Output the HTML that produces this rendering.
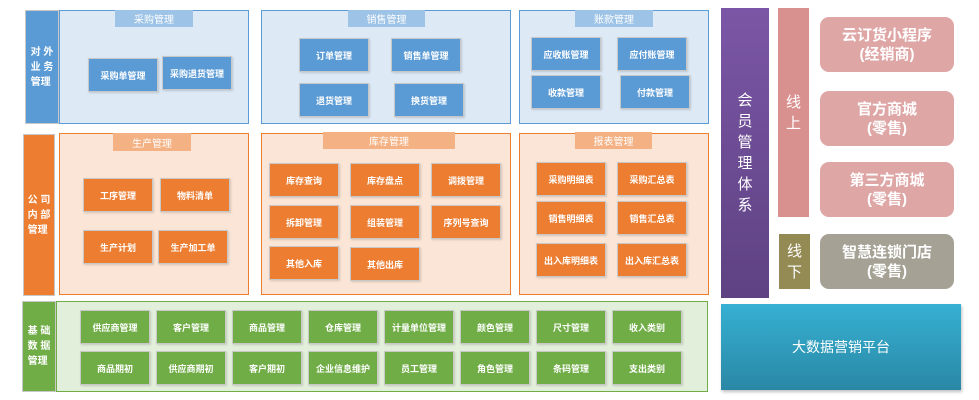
<!DOCTYPE html>
<html><head><meta charset="utf-8">
<style>
body{margin:0;width:979px;height:400px;background:#fff;position:relative;overflow:hidden;font-family:"Liberation Sans","Noto Sans CJK SC",sans-serif;}
.a{position:absolute;box-sizing:border-box;}
.box{display:flex;align-items:center;justify-content:center;color:#fff;font-size:9px;font-weight:bold;border:1px solid #c8c8c8;box-shadow:1px 1px 2px rgba(0,0,0,0.15);white-space:nowrap;}
.tab{display:flex;align-items:center;justify-content:center;color:#fff;font-size:10px;}
.side{display:flex;align-items:center;justify-content:center;color:#fff;font-size:10px;font-weight:bold;line-height:15px;text-align:left;border:1px solid #c8c8c8;}
.big{display:flex;align-items:center;justify-content:center;color:#fff;text-align:center;border-radius:9px;font-size:15px;font-weight:bold;line-height:19px;}
.vert{display:flex;align-items:center;justify-content:center;color:#fff;font-size:15px;line-height:21px;text-align:center;}
</style></head><body>
<div class="a side" style="left:25px;top:10px;width:34px;height:114px;background:#5b9bd5">对&nbsp;外<br>业&nbsp;务<br>管理</div>
<div class="a side" style="left:23px;top:134px;width:32px;height:162px;background:#ed7d31">公&nbsp;司<br>内&nbsp;部<br>管理</div>
<div class="a side" style="left:22px;top:301px;width:34px;height:91px;background:#70ad47">基&nbsp;础<br>数&nbsp;据<br>管理</div>
<div id="root"></div>
<div class="a vert" style="left:721px;top:8px;width:48px;height:290px;background:linear-gradient(#7b56a6,#5e4282);font-size:15px">会<br>员<br>管<br>理<br>体<br>系</div>
<div class="a vert" style="left:778px;top:8px;width:31px;height:209px;background:#d99190">线<br>上</div>
<div class="a vert" style="left:779px;top:234px;width:31px;height:55px;background:#948a54">线<br>下</div>
<div class="a big" style="left:820px;top:17px;width:134px;height:55px;background:#dfa6a6">云订货小程序<br>(经销商)</div>
<div class="a big" style="left:820px;top:91px;width:134px;height:55px;background:#dfa6a6">官方商城<br>(零售)</div>
<div class="a big" style="left:820px;top:162px;width:134px;height:55px;background:#dfa6a6">第三方商城<br>(零售)</div>
<div class="a big" style="left:820px;top:234px;width:134px;height:55px;background:#a5a295">智慧连锁门店<br>(零售)</div>
<div class="a vert" style="left:721px;top:304px;width:240px;height:86px;background:linear-gradient(#36b0d3,#2a88a5);font-size:14px;box-shadow:1px 2px 3px rgba(0,0,0,0.25)">大数据营销平台</div>
<script>
const panels=[
 {n:'purchase',t:'采购管理',x:59,y:10,w:190,h:114,tx:115,ty:10,tw:78,th:17,c:'b',items:[['采购单管理',88,58],['采购退货管理',162,56]]},
 {n:'sales',t:'销售管理',x:261,y:10,w:250,h:114,tx:348,ty:10,tw:77,th:17,c:'b',items:[['订单管理',299,38],['销售单管理',391,38],['退货管理',299,83],['换货管理',394,83]]},
 {n:'accounts',t:'账款管理',x:519,y:10,w:190,h:114,tx:575,ty:10,tw:78,th:17,c:'b',items:[['应收账管理',531,37],['应付账管理',617,37],['收款管理',531,75],['付款管理',620,75]]},
 {n:'production',t:'生产管理',x:59,y:133,w:190,h:162,tx:113,ty:133,tw:78,th:18,c:'o',items:[['工序管理',83,178],['物料清单',160,178],['生产计划',83,230],['生产加工单',158,230]]},
 {n:'inventory',t:'库存管理',x:261,y:133,w:250,h:162,tx:323,ty:132,tw:132,th:17,c:'o',items:[['库存查询',269,163],['库存盘点',350,163],['调拨管理',431,163],['拆卸管理',269,205],['组装管理',350,205],['序列号查询',431,205],['其他入库',269,246],['其他出库',350,247]]},
 {n:'reports',t:'报表管理',x:519,y:133,w:190,h:162,tx:575,ty:132,tw:77,th:17,c:'o',items:[['采购明细表',536,162],['采购汇总表',617,162],['销售明细表',536,201],['销售汇总表',617,201],['出入库明细表',536,243],['出入库汇总表',617,243]]},
 {n:'basic',t:'',x:56,y:301,w:652,h:91,c:'g',items:[]}
];
const basicItems=['供应商管理','客户管理','商品管理','仓库管理','计量单位管理','颜色管理','尺寸管理','收入类别','商品期初','供应商期初','客户期初','企业信息维护','员工管理','角色管理','条码管理','支出类别'];
basicItems.forEach((s,i)=>panels[6].items.push([s,80+76*(i%8),i<8?310:351]));
const col={b:['#dde9f5','#5b9bd5','#9dc3e6','#5b9bd5'],o:['#fbe5d6','#ed7d31','#f4b183','#ed7d31'],g:['#e2efda','#70ad47','','#70ad47']};
const root=document.getElementById('root');
panels.forEach(p=>{
 const c=col[p.c];
 const d=document.createElement('div');d.className='a';
 d.style.cssText=`left:${p.x}px;top:${p.y}px;width:${p.w}px;height:${p.h}px;background:${c[0]};border:1px solid ${c[1]}`;
 
 
 root.appendChild(d);
 if(p.t){const t=document.createElement('div');t.className='a tab';t.textContent=p.t;
  t.style.cssText=`left:${p.tx}px;top:${p.ty}px;width:${p.tw}px;height:${p.th}px;background:${c[2]}`;
  
  
  root.appendChild(t);}
 p.items.forEach(it=>{const b=document.createElement('div');b.className='a box';b.textContent=it[0];
  b.style.cssText=`left:${it[1]}px;top:${it[2]}px;width:70px;height:34px;background:${c[3]}`;
  
  
  root.appendChild(b);});
});
</script>
</body></html>
